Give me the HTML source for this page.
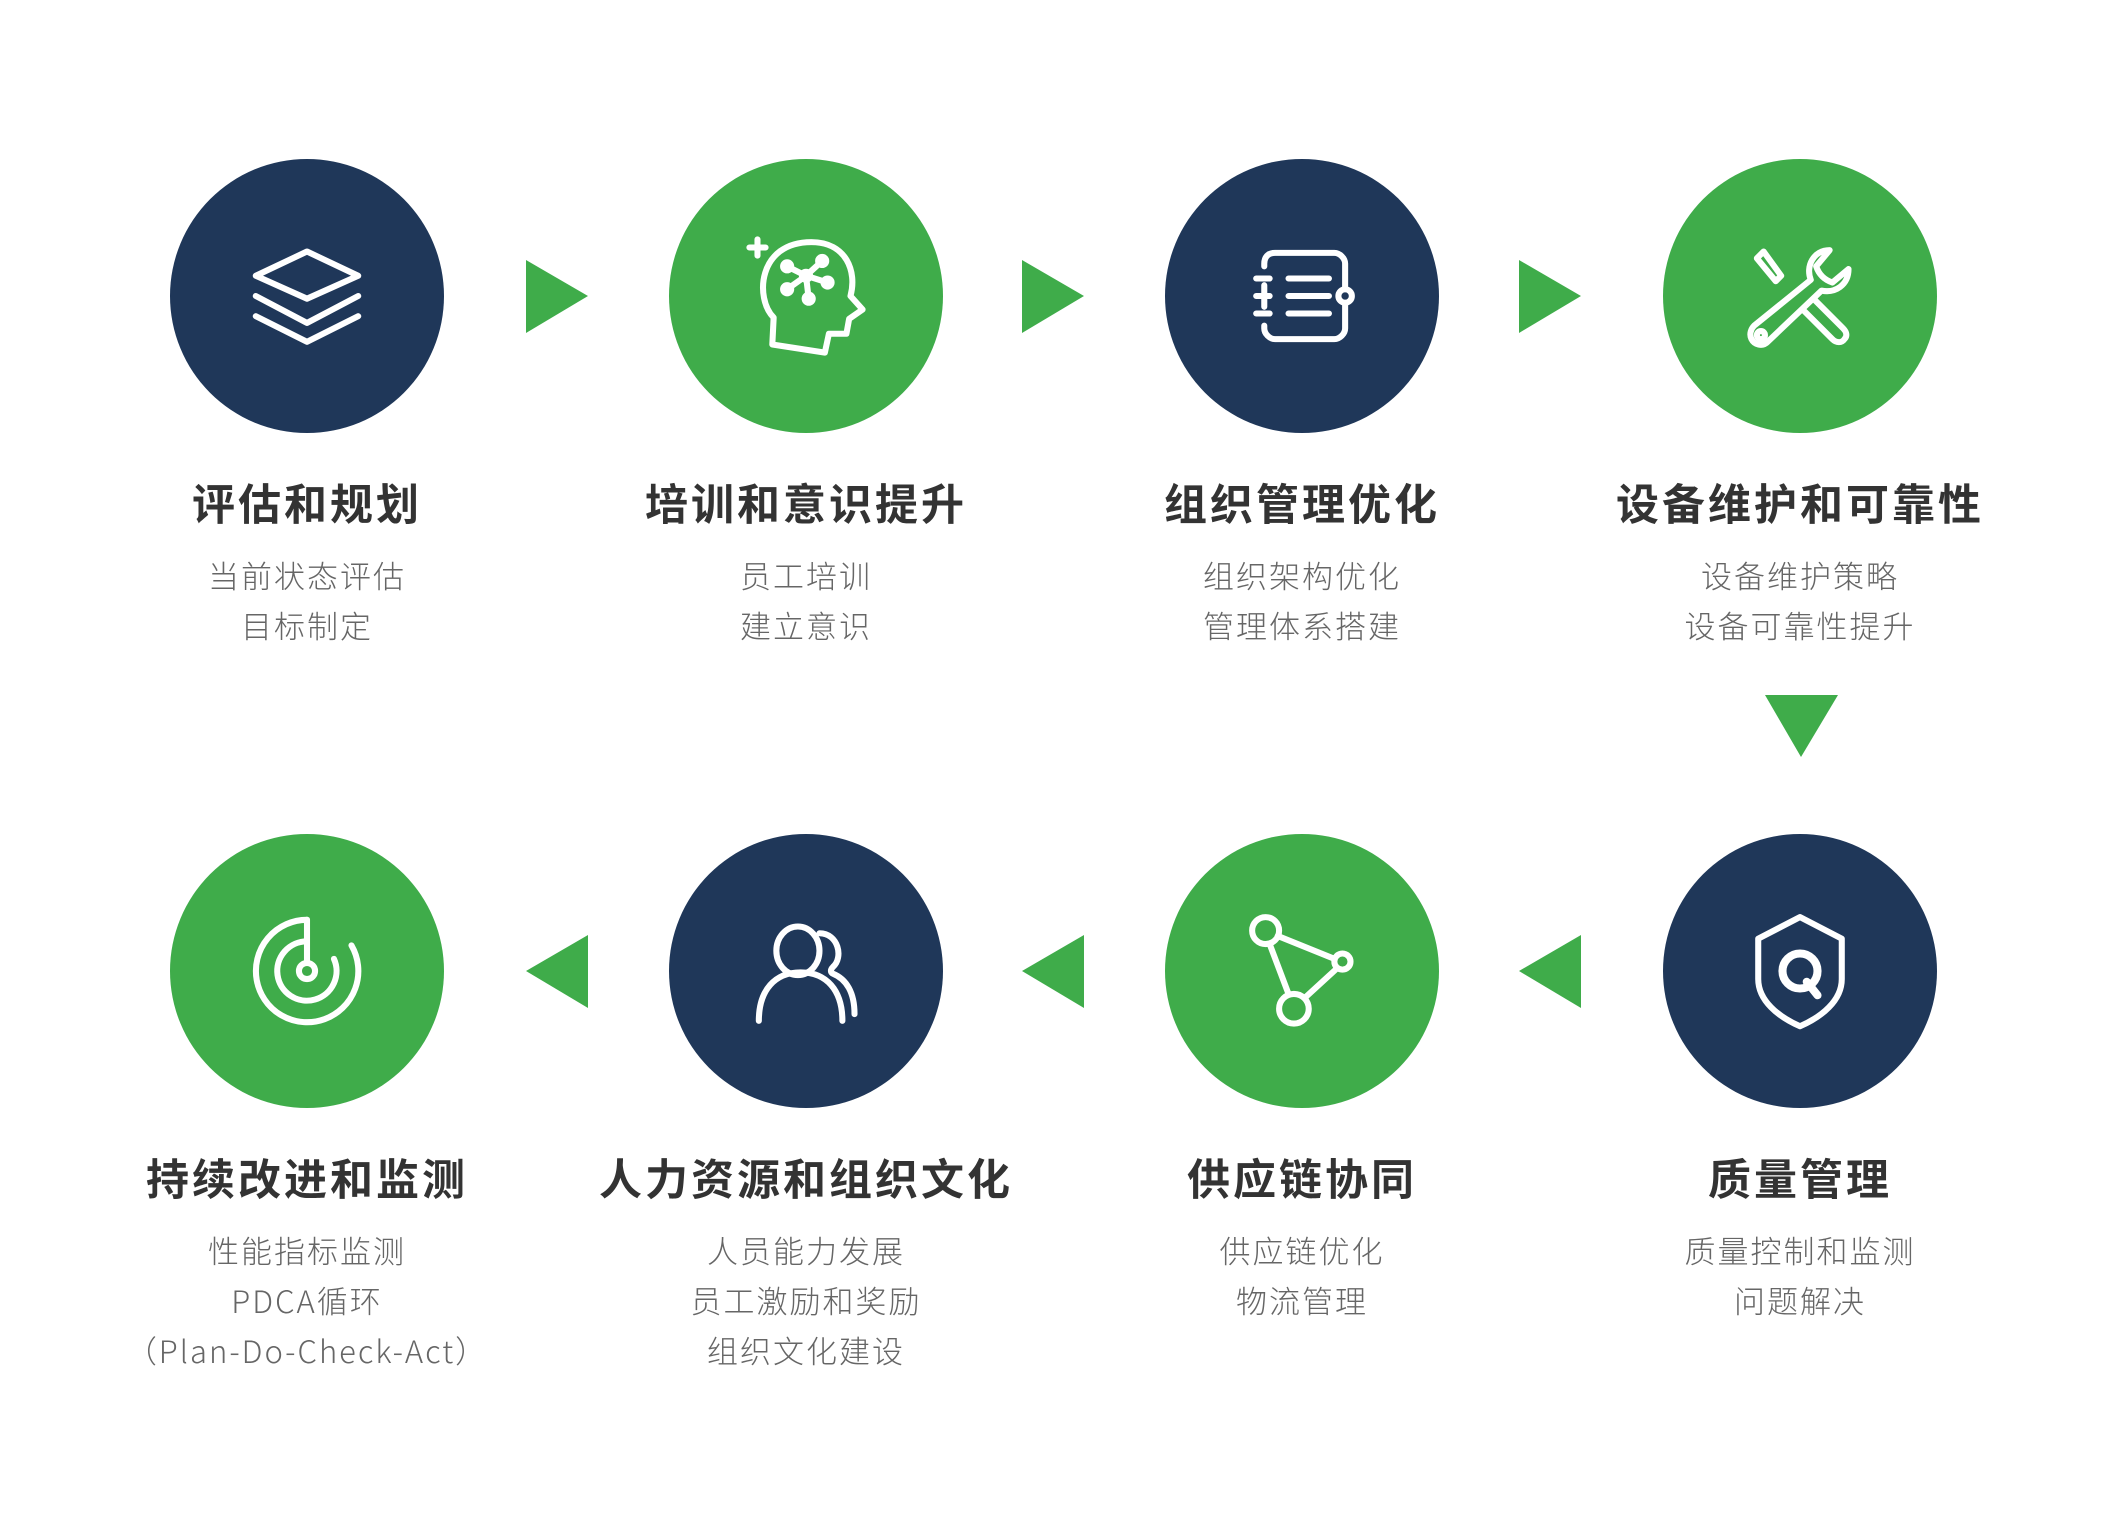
<!DOCTYPE html>
<html><head><meta charset="utf-8"><style>
html,body{margin:0;padding:0;background:#fff;}
svg{display:block;}
.t{font-family:"Liberation Sans","Noto Sans CJK SC",sans-serif;font-weight:700;font-size:43px;fill:#333;letter-spacing:3px;text-anchor:middle;}
.s{font-family:"Noto Sans CJK SC","Liberation Sans",sans-serif;font-weight:300;font-size:31px;fill:#666;letter-spacing:2px;text-anchor:middle;}
.i{fill:none;stroke:#fff;stroke-width:4.5;stroke-linecap:round;stroke-linejoin:round;}
</style></head><body>
<svg width="2113" height="1526" viewBox="0 0 2113 1526" xmlns="http://www.w3.org/2000/svg">
<circle cx="307" cy="296" r="137" fill="#1f3759"/>
<circle cx="806" cy="296" r="137" fill="#3fac4a"/>
<circle cx="1302" cy="296" r="137" fill="#1f3759"/>
<circle cx="1800" cy="296" r="137" fill="#3fac4a"/>
<circle cx="307" cy="971" r="137" fill="#3fac4a"/>
<circle cx="806" cy="971" r="137" fill="#1f3759"/>
<circle cx="1302" cy="971" r="137" fill="#3fac4a"/>
<circle cx="1800" cy="971" r="137" fill="#1f3759"/>
<g fill="#3fac4a">
<polygon points="526,260 588,296 526,333"/>
<polygon points="1022,260 1084,296 1022,333"/>
<polygon points="1519,260 1581,296 1519,333"/>
<polygon points="1765,695 1838,695 1801,757"/>
<polygon points="588,935 526,971 588,1008"/>
<polygon points="1084,935 1022,971 1084,1008"/>
<polygon points="1581,935 1519,971 1581,1008"/>
</g>
<g transform="translate(307,296) scale(1.3476)" class="i">
<polygon points="0,-33 38,-15 0,2 -38,-15"/>
<polyline points="-38,0 0,20 38,0"/>
<polyline points="-38,15 0,34 38,15"/>
</g>
<g transform="translate(806,296) scale(1.3476)" class="i">
<path d="M-25,36 L-24,16 C-38,2 -36,-40 4,-40 C30,-40 38,-18 33,0 L42,10 L32,17 L30,28 L17,28 L14,42 Z"/>
<path d="M-36,-42 V-30 M-42,-36 H-30"/>
<path d="M0,-15 L-14,-22 M0,-15 L12,-26 M0,-15 L16,-10 M0,-15 L-14,-5 M0,-15 L2,2"/>
<circle cx="0" cy="-15" r="3" fill="#fff"/>
<circle cx="-14" cy="-22" r="3" fill="#fff"/><circle cx="12" cy="-26" r="3" fill="#fff"/>
<circle cx="16" cy="-10" r="3" fill="#fff"/><circle cx="-14" cy="-5" r="3" fill="#fff"/><circle cx="2" cy="2" r="3" fill="#fff"/>
</g>
<g transform="translate(1302,296) scale(1.3476)" class="i">
<path d="M-28,-22 V-24 C-28,-30 -24,-32 -20,-32 H24 C28,-32 32,-28 32,-24 V-5 M32,5 V24 C32,28 28,32 24,32 H-20 C-24,32 -28,28 -28,24 V22"/>
<circle cx="32" cy="0" r="5"/>
<path d="M-10,-13 H20 M-10,0 H20 M-10,13 H20"/>
<path d="M-34,-13 H-24 M-34,0 H-24 M-34,13 H-24 M-28,-8 V8"/>
</g>
<g transform="translate(1800,296) scale(1.3476)" class="i">
<path d="M-32,-28 L-27,-33 L-14,-15 L-18,-11 Z"/>
<path d="M2,10 L24,32 C27,35 31,35 33,32 C35,30 35,27 32,24 L10,2"/>
<path d="M8,-12 C4,-22 10,-34 22,-34 L12,-22 C14,-16 18,-12 24,-10 L36,-20 C36,-8 26,-2 16,-4 L-24,34 C-28,38 -34,36 -36,32 C-38,28 -36,24 -34,22 Z"/>
<circle cx="-29" cy="29" r="3"/>
</g>
<g transform="translate(1800,971) scale(1.3476)" class="i">
<path d="M0,-40 L31,-24 V6 C31,22 16,34 0,41 C-16,34 -31,22 -31,6 V-24 Z"/>
<circle cx="0" cy="0" r="13" stroke-width="6"/>
<path d="M5,8 L13,18" stroke-width="6"/>
</g>
<g transform="translate(1302,971) scale(1.3476)" class="i">
<circle cx="-27" cy="-30" r="10"/>
<circle cx="30" cy="-7" r="6"/>
<circle cx="-6" cy="28" r="11"/>
<path d="M-18,-26 L24,-9 M26,-2 L2,20 M-24,-20 L-10,17"/>
</g>
<g transform="translate(806,971) scale(1.3476)" class="i">
<ellipse cx="-6" cy="-15" rx="16" ry="18"/>
<path d="M-35,37 C-35,14 -23,1 -4,1 C15,1 27,14 27,37"/>
<path d="M10,-28 C24,-28 28,-10 20,-3 C18,-1 18,1 20,2 C30,6 36,16 36,32"/>
</g>
<g transform="translate(307,971) scale(1.3476)" class="i">
<path d="M0,-38 A38,38 0 1 0 33,-19"/>
<path d="M0,-22 A22,22 0 1 0 20,-9"/>
<circle cx="0" cy="0" r="6"/>
<path d="M0,-38 V-6"/>
</g>
<text class="t" x="307" y="520">评估和规划</text>
<text class="s" x="307" y="588">当前状态评估</text>
<text class="s" x="307" y="638">目标制定</text>
<text class="t" x="806" y="520">培训和意识提升</text>
<text class="s" x="806" y="588">员工培训</text>
<text class="s" x="806" y="638">建立意识</text>
<text class="t" x="1302" y="520">组织管理优化</text>
<text class="s" x="1302" y="588">组织架构优化</text>
<text class="s" x="1302" y="638">管理体系搭建</text>
<text class="t" x="1800" y="520">设备维护和可靠性</text>
<text class="s" x="1800" y="588">设备维护策略</text>
<text class="s" x="1800" y="638">设备可靠性提升</text>
<text class="t" x="307" y="1195">持续改进和监测</text>
<text class="s" x="307" y="1263">性能指标监测</text>
<text class="s" x="307" y="1313">PDCA循环</text>
<text class="s" x="307" y="1363">（Plan-Do-Check-Act）</text>
<text class="t" x="806" y="1195">人力资源和组织文化</text>
<text class="s" x="806" y="1263">人员能力发展</text>
<text class="s" x="806" y="1313">员工激励和奖励</text>
<text class="s" x="806" y="1363">组织文化建设</text>
<text class="t" x="1302" y="1195">供应链协同</text>
<text class="s" x="1302" y="1263">供应链优化</text>
<text class="s" x="1302" y="1313">物流管理</text>
<text class="t" x="1800" y="1195">质量管理</text>
<text class="s" x="1800" y="1263">质量控制和监测</text>
<text class="s" x="1800" y="1313">问题解决</text>
</svg>
</body></html>
